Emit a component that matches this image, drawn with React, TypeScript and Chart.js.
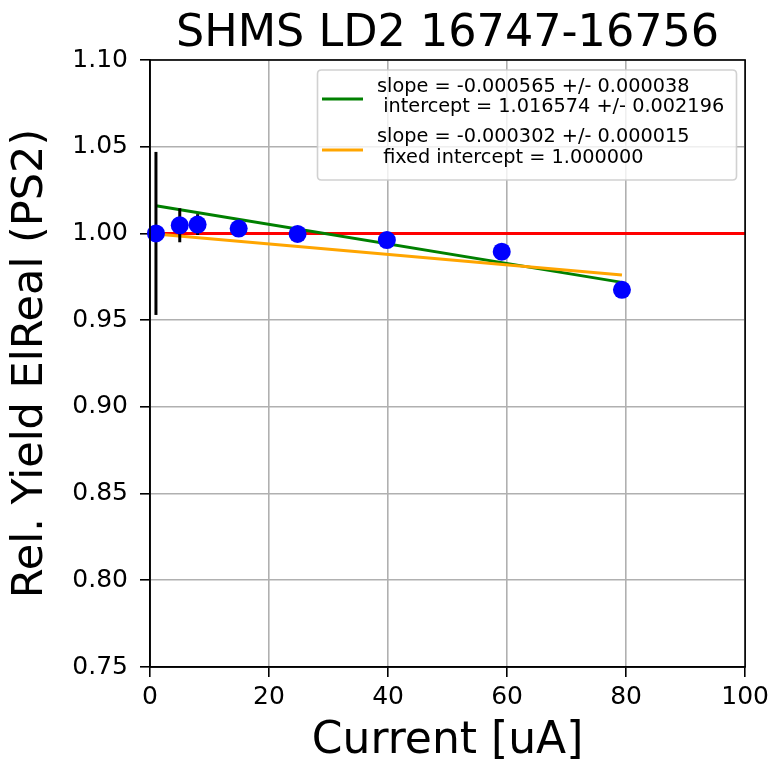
import React, { useEffect, useRef } from "react";
import { Chart, registerables } from "chart.js";

Chart.register(...registerables);

// ---- data ----
const currents = [1.0, 5.0, 8.0, 14.9, 24.8, 39.8, 59.1, 79.3];
const relYields = [1.0, 1.0047, 1.0051, 1.0028, 0.9997, 0.9962, 0.9895, 0.9675];
const yieldErrors = [0.047, 0.0098, 0.006, 0.004, 0.004, 0.004, 0.004, 0.004];

const fitSlope = -0.000565;
const fitIntercept = 1.016574;
const fixedSlope = -0.000302;
const fixedIntercept = 1.0;
const referenceLevel = 1.0;
const referenceRange = [1.0, 100];

const xTicks = [0, 20, 40, 60, 80, 100];
const yTicks = [0.75, 0.8, 0.85, 0.9, 0.95, 1.0, 1.05, 1.1];

const titleText = "SHMS LD2 16747-16756";
const xLabel = "Current [uA]";
const yLabel = "Rel. Yield ElReal (PS2)";
const legendLabels = [
  ["slope = -0.000565 +/- 0.000038", " intercept = 1.016574 +/- 0.002196"],
  ["slope = -0.000302 +/- 0.000015", " fixed intercept = 1.000000"],
];

const FONT = "'DejaVu Sans', 'Liberation Sans', sans-serif";
const GREEN = "#008000";
const ORANGE = "#ffa500";
const RED = "#ff0000";
const BLUE = "#0000ff";

export default function App() {
  const ref = useRef<HTMLCanvasElement | null>(null);

  useEffect(() => {
    const canvas = ref.current;
    if (!canvas) return;
    const xMin = currents[0];
    const xMax = currents[currents.length - 1];

    const errorBarPlugin = {
      id: "errorBars",
      beforeDatasetDraw(chart: any, args: any) {
        if (args.index !== 3) return;
        const ctx = chart.ctx;
        const xs = chart.scales.x;
        const ys = chart.scales.y;
        ctx.save();
        ctx.strokeStyle = "#000000";
        ctx.lineWidth = 3;
        currents.forEach((c, i) => {
          const px = xs.getPixelForValue(c);
          ctx.beginPath();
          ctx.moveTo(px, ys.getPixelForValue(relYields[i] + yieldErrors[i]));
          ctx.lineTo(px, ys.getPixelForValue(relYields[i] - yieldErrors[i]));
          ctx.stroke();
        });
        ctx.restore();
      },
    };

    const decorPlugin = {
      id: "decor",
      afterDraw(chart: any) {
        const ctx = chart.ctx;
        const a = chart.chartArea;
        ctx.save();
        // frame (all four spines)
        ctx.strokeStyle = "#000000";
        ctx.lineWidth = 1.6;
        ctx.strokeRect(a.left, a.top, a.right - a.left, a.bottom - a.top);
        // title
        ctx.fillStyle = "#000000";
        ctx.font = `44.5px ${FONT}`;
        ctx.textAlign = "center";
        ctx.textBaseline = "alphabetic";
        ctx.fillText(titleText, (a.left + a.right) / 2, 46);
        // legend box
        const lx = 317.5, ly = 70, lw = 419, lh = 110, r = 4;
        ctx.beginPath();
        ctx.moveTo(lx + r, ly);
        ctx.lineTo(lx + lw - r, ly);
        ctx.quadraticCurveTo(lx + lw, ly, lx + lw, ly + r);
        ctx.lineTo(lx + lw, ly + lh - r);
        ctx.quadraticCurveTo(lx + lw, ly + lh, lx + lw - r, ly + lh);
        ctx.lineTo(lx + r, ly + lh);
        ctx.quadraticCurveTo(lx, ly + lh, lx, ly + lh - r);
        ctx.lineTo(lx, ly + r);
        ctx.quadraticCurveTo(lx, ly, lx + r, ly);
        ctx.closePath();
        ctx.fillStyle = "rgba(255,255,255,0.8)";
        ctx.fill();
        ctx.strokeStyle = "rgba(204,204,204,0.9)";
        ctx.lineWidth = 1.6;
        ctx.stroke();
        const colors = [GREEN, ORANGE];
        const handleY = [99, 150];
        const textY = [[87, 107], [137, 158]];
        legendLabels.forEach((lines, i) => {
          ctx.strokeStyle = colors[i];
          ctx.lineWidth = 3;
          ctx.beginPath();
          ctx.moveTo(322, handleY[i]);
          ctx.lineTo(363, handleY[i]);
          ctx.stroke();
          ctx.fillStyle = "#000000";
          ctx.font = `19.3px ${FONT}`;
          ctx.textAlign = "left";
          ctx.textBaseline = "middle";
          lines.forEach((t, j) => ctx.fillText(t, 377, textY[i][j]));
        });
        ctx.restore();
      },
    };

    const chart = new Chart(canvas, {
      type: "scatter",
      data: {
        datasets: [
          {
            label: "ref",
            data: referenceRange.map((x) => ({ x, y: referenceLevel })),
            showLine: true,
            borderColor: RED,
            borderWidth: 3,
            pointRadius: 0,
            order: 3,
          },
          {
            label: "fit",
            data: [xMin, xMax].map((x) => ({ x, y: fitIntercept + fitSlope * x })),
            showLine: true,
            borderColor: GREEN,
            borderWidth: 3,
            pointRadius: 0,
            order: 2,
          },
          {
            label: "fixed",
            data: [xMin, xMax].map((x) => ({ x, y: fixedIntercept + fixedSlope * x })),
            showLine: true,
            borderColor: ORANGE,
            borderWidth: 3,
            pointRadius: 0,
            order: 1,
          },
          {
            label: "data",
            data: currents.map((x, i) => ({ x, y: relYields[i] })),
            showLine: false,
            pointRadius: 9,
            pointBackgroundColor: BLUE,
            pointBorderColor: BLUE,
            pointBorderWidth: 0,
            order: 0,
            clip: false as any,
          },
        ],
      },
      options: {
        animation: false,
        responsive: false,
        devicePixelRatio: 1,
        layout: { padding: { top: 60, right: 28, left: 0, bottom: 0 } },
        plugins: {
          legend: { display: false },
          title: { display: false },
          tooltip: { enabled: false },
        },
        scales: {
          x: {
            type: "linear",
            min: 0,
            max: 100,
            afterBuildTicks: (s: any) => {
              s.ticks = xTicks.map((v) => ({ value: v }));
            },
            afterFit: (s: any) => {
              s.height = 99;
            },
            ticks: {
              color: "#000000",
              padding: 5,
              font: { family: FONT, size: 25 },
              callback: (v: any) => String(v),
            },
            grid: {
              color: "#b0b0b0",
              lineWidth: 1.6,
              tickColor: "#000000",
              tickLength: 10,
              tickWidth: 1.6,
            },
            border: { display: true, color: "#000000", width: 1.6 },
            title: {
              display: true,
              text: xLabel,
              color: "#000000",
              font: { family: FONT, size: 44, lineHeight: 1 },
              padding: { top: 0, bottom: 2 },
            },
          },
          y: {
            type: "linear",
            min: 0.75,
            max: 1.1,
            afterBuildTicks: (s: any) => {
              s.ticks = yTicks.map((v) => ({ value: v }));
            },
            afterFit: (s: any) => {
              s.width = 150;
            },
            ticks: {
              color: "#000000",
              padding: 12,
              font: { family: FONT, size: 25 },
              callback: (v: any) => Number(v).toFixed(2),
            },
            grid: {
              color: "#b0b0b0",
              lineWidth: 1.6,
              tickColor: "#000000",
              tickLength: 10,
              tickWidth: 1.6,
            },
            border: { display: true, color: "#000000", width: 1.6 },
            title: {
              display: true,
              text: yLabel,
              color: "#000000",
              font: { family: FONT, size: 43, lineHeight: 1 },
              padding: { top: 9, bottom: 0 },
            },
          },
        },
      },
      plugins: [errorBarPlugin, decorPlugin],
    });

    return () => chart.destroy();
  }, []);

  return (
    <div style={{ position: "absolute", left: 0, top: 0, width: 774, height: 766, background: "#ffffff" }}>
      <canvas ref={ref} width={774} height={766} style={{ width: 774, height: 766 }} />
    </div>
  );
}
